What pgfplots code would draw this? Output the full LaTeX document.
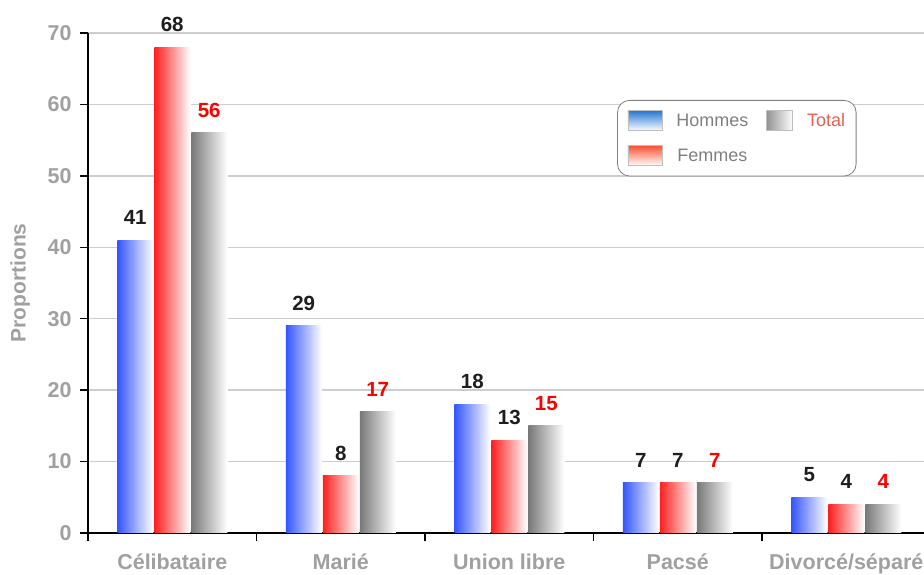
\documentclass[border=0pt]{standalone}
\usepackage{fontspec}
\setmainfont{Liberation Sans}
\usepackage{pgfplots}
\pgfplotsset{compat=1.18}

\definecolor{cblue}{RGB}{51,85,255}
\definecolor{cred}{RGB}{255,30,30}
\definecolor{cgrey}{RGB}{120,120,120}
\definecolor{lblue}{RGB}{40,120,210}
\definecolor{lred}{RGB}{250,80,50}
\definecolor{tickgrey}{RGB}{160,160,160}
\definecolor{gridgrey}{RGB}{205,205,205}
\definecolor{totred}{RGB}{232,96,76}
\definecolor{labblack}{RGB}{30,30,30}

% one bar per plot, so that every bar gets its own left-to-right shading
\pgfplotsset{
  hom/.style={ybar, bar width=36pt, bar shift=-37pt, draw=none,
    left color=cblue, right color=white,
    every node near coord/.append style={xshift=-37pt}},
  fem/.style={ybar, bar width=36pt, bar shift=0pt, draw=none,
    left color=cred, right color=white},
  tot/.style={ybar, bar width=36pt, bar shift=37pt, draw=none,
    left color=cgrey, right color=white,
    every node near coord/.append style={xshift=37pt, text=red}},
}

\begin{document}
\begin{tikzpicture}
\useasboundingbox (0,0) rectangle (924pt,575pt);
\clip (0,0) rectangle (924pt,575pt);
\begin{axis}[
  at={(88pt,42pt)}, anchor=south west,
  scale only axis, width=842.5pt, height=500pt,
  xmin=-0.5, xmax=4.5, ymin=0, ymax=70,
  axis lines*=left,
  axis line style={black, line width=1.8pt},
  ytick={0,10,...,70},
  ymajorgrids, grid style={gridgrey, line width=1.5pt},
  xtick={-0.5,0.5,...,4.5},
  x tick label as interval,
  xticklabels={Célibataire, Marié, Union libre, Pacsé, Divorcé/séparé},
  tick align=outside, major tick length=8pt,
  tick style={black, line width=1.5pt},
  ticklabel style={font=\fontsize{21.5}{25}\selectfont\bfseries, text=tickgrey},
  xticklabel style={yshift=-9pt},
  yticklabel style={xshift=-5pt},
  /pgf/number format/assume math mode=true,
  ylabel={Proportions},
  ylabel style={at={(axis description cs:-0.0805,0.5)}, anchor=center,
    font=\fontsize{21}{24}\selectfont\bfseries, text=tickgrey},
  nodes near coords,
  every node near coord/.append style={font=\fontsize{20.5}{24}\selectfont\bfseries,
    text=labblack, yshift=12pt},
  legend columns=2, transpose legend,
  legend style={at={(0.628,0.866)}, anchor=north west, draw=gray, line width=0.8pt,
    rounded corners=12pt, font=\fontsize{18}{21}\selectfont, text=gray,
    inner xsep=10pt, inner ysep=10pt, row sep=14pt,
    nodes={inner sep=1pt},
    /tikz/every odd column/.append style={column sep=13pt},
    /tikz/every even column/.append style={column sep=17pt}},
]
\addplot[hom, legend image code/.code={\shade[sharp corners, top color=lblue,
    bottom color=white, draw=gray!50, line width=0.8pt]
    (0pt,-10pt) rectangle (34pt,10pt);}] coordinates {(0,41)};
\addlegendentry{Hommes}
\addplot[hom, forget plot] coordinates {(1,29)};
\addplot[hom, forget plot] coordinates {(2,18)};
\addplot[hom, forget plot] coordinates {(3,7)};
\addplot[hom, forget plot] coordinates {(4,5)};

\addplot[fem, legend image code/.code={\shade[sharp corners, top color=lred,
    bottom color=white, draw=gray!50, line width=0.8pt]
    (0pt,-10pt) rectangle (34pt,10pt);}] coordinates {(0,68)};
\addlegendentry{Femmes}
\addplot[fem, forget plot] coordinates {(1,8)};
\addplot[fem, forget plot] coordinates {(2,13)};
\addplot[fem, forget plot] coordinates {(3,7)};
\addplot[fem, forget plot] coordinates {(4,4)};

\addplot[tot, legend image code/.code={\shade[sharp corners, left color=cgrey!80,
    right color=white, draw=gray!50, line width=0.8pt]
    (0pt,-10pt) rectangle (26pt,10pt);}] coordinates {(0,56)};
\addlegendentry{\textcolor{totred}{Total}}
\addplot[tot, forget plot] coordinates {(1,17)};
\addplot[tot, forget plot] coordinates {(2,15)};
\addplot[tot, forget plot] coordinates {(3,7)};
\addplot[tot, forget plot] coordinates {(4,4)};
\end{axis}
\end{tikzpicture}
\end{document}
